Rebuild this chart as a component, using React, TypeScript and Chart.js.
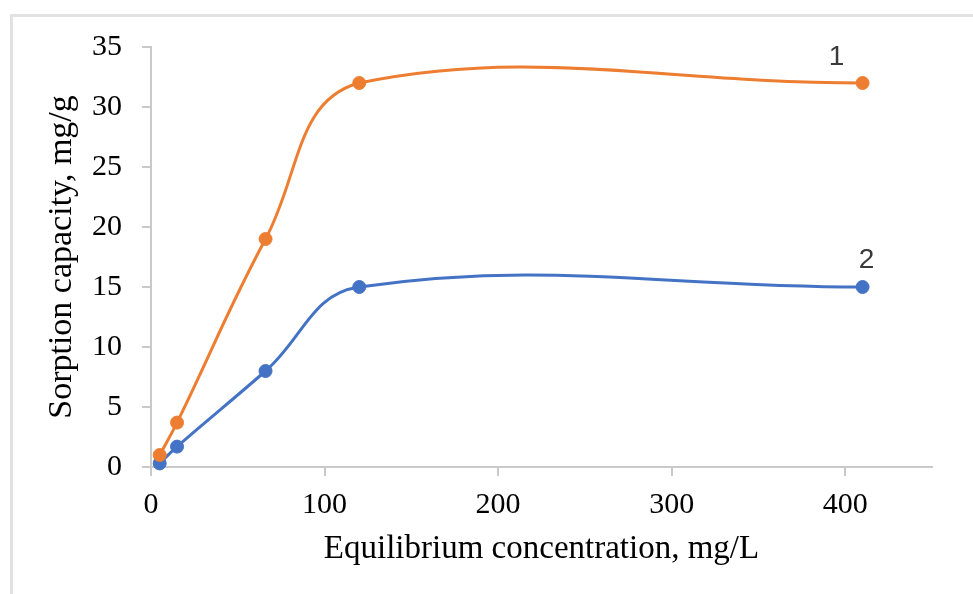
import React, { useEffect, useRef } from "react";
import { Chart, registerables } from "chart.js";

Chart.register(...registerables);

// ---- data ----
const xValues = [5, 15, 66, 120, 410];
const series1 = [1.0, 3.7, 19, 32, 32];
const series2 = [0.3, 1.7, 8, 15, 15];
const seriesNames = ["1", "2"];
const xTicks = [0, 100, 200, 300, 400];
const yTicks = [0, 5, 10, 15, 20, 25, 30, 35];
const xTitle = "Equilibrium concentration, mg/L";
const yTitle = "Sorption capacity, mg/g";

// ---- style ----
const colors = ["#ED7D31", "#4472C4"];
const labelOffsets = [
  [-26, -26],
  [4, -27],
];
const axisColor = "#c9c9c9";
const serif = '"Liberation Serif", "Times New Roman", serif';

const endLabels = {
  id: "endLabels",
  afterDatasetsDraw(chart: any) {
    const ctx = chart.ctx;
    chart.data.datasets.forEach((ds: any, i: number) => {
      const meta = chart.getDatasetMeta(i);
      const last = meta.data[meta.data.length - 1];
      const off = labelOffsets[i];
      ctx.save();
      ctx.font = '28px "Liberation Sans", Arial, sans-serif';
      ctx.fillStyle = "#3a3a3a";
      ctx.textAlign = "center";
      ctx.textBaseline = "middle";
      ctx.fillText(ds.label, last.x + off[0], last.y + off[1]);
      ctx.restore();
    });
  },
};

export default function App() {
  const canvasRef = useRef<HTMLCanvasElement | null>(null);

  useEffect(() => {
    if (!canvasRef.current) return;
    const makeSet = (i: number, ys: number[]) => ({
      label: seriesNames[i],
      data: xValues.map((x, k) => ({ x, y: ys[k] })),
      borderColor: colors[i],
      backgroundColor: colors[i],
      pointBackgroundColor: colors[i],
      pointBorderColor: colors[i],
      borderWidth: 3,
      pointRadius: 6.5,
      pointBorderWidth: 1,
      tension: 0.4,
      clip: false as any,
      order: i,
    });
    const chart = new Chart(canvasRef.current, {
      type: "line",
      data: {
        datasets: [makeSet(0, series1), makeSet(1, series2)],
      },
      options: {
        animation: false,
        responsive: false,
        devicePixelRatio: 1,
        layout: { padding: { left: 0, right: 41, top: 47, bottom: 0 } },
        plugins: {
          legend: { display: false },
          tooltip: { enabled: false },
        },
        scales: {
          x: {
            type: "linear",
            min: 0,
            max: 450,
            afterBuildTicks: (s: any) => {
              s.ticks = xTicks.map((v) => ({ value: v }));
            },
            afterFit: (s: any) => {
              s.height = 127;
            },
            ticks: {
              color: "#000",
              font: { family: serif, size: 30 },
              padding: 11,
              maxRotation: 0,
            },
            grid: {
              display: true,
              drawOnChartArea: false,
              drawTicks: true,
              tickLength: 9,
              color: axisColor,
              lineWidth: 2,
            },
            border: { display: true, color: axisColor, width: 2 },
            title: {
              display: true,
              text: xTitle,
              color: "#000",
              font: { family: serif, size: 33 },
              padding: { top: 0, bottom: 25 },
            },
          },
          y: {
            type: "linear",
            min: 0,
            max: 35,
            afterBuildTicks: (s: any) => {
              s.ticks = yTicks.map((v) => ({ value: v }));
            },
            afterFit: (s: any) => {
              s.width = 151;
            },
            ticks: {
              color: "#000",
              font: { family: serif, size: 30 },
              padding: 20,
            },
            grid: {
              display: true,
              drawOnChartArea: false,
              drawTicks: true,
              tickLength: 9,
              color: axisColor,
              lineWidth: 2,
            },
            border: { display: true, color: axisColor, width: 2 },
            title: {
              display: true,
              text: yTitle,
              color: "#000",
              font: { family: serif, size: 34 },
              padding: { top: 42, bottom: 0 },
            },
          },
        },
      },
      plugins: [endLabels],
    });
    return () => chart.destroy();
  }, []);

  return (
    <div
      style={{
        position: "absolute",
        left: 0,
        top: 0,
        width: 973,
        height: 594,
        overflow: "hidden",
        background: "#fff",
      }}
    >
      <div
        style={{
          position: "absolute",
          left: 10,
          top: 14,
          width: 1000,
          height: 620,
          borderLeft: "3px solid #e2e2e2",
          borderTop: "3px solid #e2e2e2",
        }}
      />
      <canvas
        ref={canvasRef}
        width={973}
        height={594}
        style={{ position: "absolute", left: 0, top: 0 }}
      />
    </div>
  );
}
